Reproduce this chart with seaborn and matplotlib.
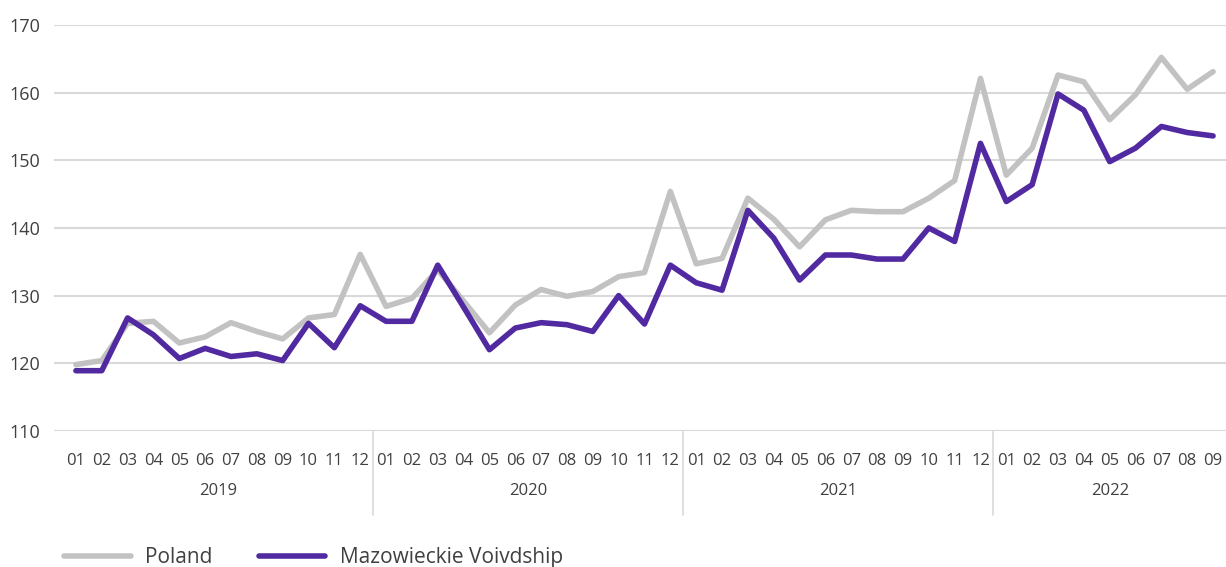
import matplotlib
matplotlib.use("Agg")
import matplotlib.pyplot as plt
import matplotlib.transforms as mtransforms
import numpy as np
import pandas as pd
import seaborn as sns

years = ["2019", "2020", "2021", "2022"]
months = ["01", "02", "03", "04", "05", "06", "07", "08", "09", "10", "11", "12"]
n_last_year = 9

poland = [
    119.8, 120.4, 125.9, 126.2, 123.0, 123.9, 126.0, 124.7, 123.6, 126.7, 127.2, 136.1,
    128.4, 129.6, 133.8, 129.2, 124.5, 128.6, 130.9, 129.9, 130.6, 132.8, 133.4, 145.4,
    134.7, 135.5, 144.4, 141.3, 137.2, 141.2, 142.6, 142.4, 142.4, 144.4, 147.0, 162.1,
    147.8, 151.8, 162.6, 161.6, 156.0, 159.7, 165.2, 160.5, 163.1,
]
mazowieckie = [
    118.9, 118.9, 126.7, 124.2, 120.7, 122.2, 121.0, 121.4, 120.4, 125.9, 122.3, 128.5,
    126.2, 126.2, 134.5, 128.3, 122.0, 125.2, 126.0, 125.7, 124.7, 130.0, 125.8, 134.5,
    131.9, 130.8, 142.6, 138.5, 132.3, 136.0, 136.0, 135.4, 135.4, 140.0, 138.0, 152.5,
    143.9, 146.4, 159.8, 157.4, 149.8, 151.8, 155.0, 154.1, 153.6,
]
series_names = ["Poland", "Mazowieckie Voivdship"]
colors = ["#C2C2C2", "#5129A0"]

# month labels for each point
month_labels = []
year_of_point = []
for y in years:
    k = n_last_year if y == years[-1] else 12
    month_labels += months[:k]
    year_of_point += [y] * k

n = len(month_labels)
idx = np.arange(n)
df = pd.DataFrame({
    "x": np.concatenate([idx, idx]),
    "value": poland + mazowieckie,
    "series": [series_names[0]] * n + [series_names[1]] * n,
})

sns.set_style("white")
plt.rcParams["font.family"] = ["Open Sans", "DejaVu Sans"]

fig = plt.figure(figsize=(12.26, 5.67), dpi=100)
ax = fig.add_axes([0.044, 0.24, 0.956, 0.716])

sns.lineplot(data=df, x="x", y="value", hue="series", palette=colors,
             linewidth=4, ax=ax, legend=False)

ax.set_ylim(110, 170)
ax.set_yticks(np.arange(110, 171, 10))
ax.set_xlim(-0.85, n - 0.5)
ax.yaxis.grid(True, color="#D9D9D9", linewidth=1.5)
ax.set_axisbelow(True)
for s in ax.spines.values():
    s.set_visible(False)

ax.set_xticks(idx)
ax.set_xticklabels(month_labels)
ax.tick_params(axis="x", length=0, pad=16, labelsize=12, labelcolor="#404040")
ax.tick_params(axis="y", length=0, pad=10, labelsize=13, labelcolor="#404040")
ax.set_xlabel("")
ax.set_ylabel("")

# year group labels and separators
trans = mtransforms.blended_transform_factory(ax.transData, ax.transAxes)
yr_arr = np.array(year_of_point)
for i, y in enumerate(years):
    pos = idx[yr_arr == y]
    ax.text(pos.mean(), -0.148, y, transform=trans, ha="center", va="center",
            fontsize=12, color="#404040")
    if i > 0:
        xs = pos.min() - 0.5
        ax.plot([xs, xs], [0, -0.207], transform=trans, color="#D9D9D9",
                linewidth=1.2, clip_on=False)

handles = [plt.Line2D([], [], color=c, linewidth=4) for c in colors]
fig.legend(handles, series_names, loc="center left", bbox_to_anchor=(0.037, 0.017),
           ncol=2, frameon=False, fontsize=15, handlelength=3.2, handletextpad=0.7,
           columnspacing=2.2, labelcolor="#404040")

fig.savefig("out.png", dpi=100)
